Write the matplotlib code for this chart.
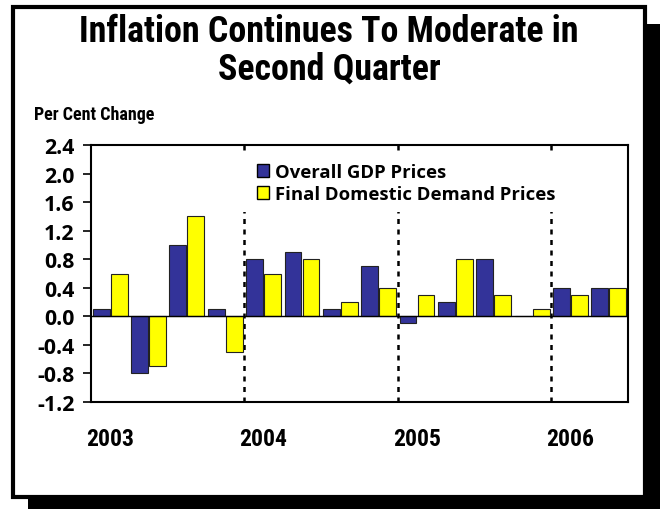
import matplotlib
matplotlib.use("Agg")
import matplotlib.pyplot as plt
from matplotlib.patches import Rectangle, Patch
import numpy as np

quarters = ["2003Q1","2003Q2","2003Q3","2003Q4","2004Q1","2004Q2","2004Q3","2004Q4",
            "2005Q1","2005Q2","2005Q3","2005Q4","2006Q1","2006Q2"]
gdp_prices = [0.1, -0.8, 1.0, 0.1, 0.8, 0.9, 0.1, 0.7, -0.1, 0.2, 0.8, 0.0, 0.4, 0.4]
fdd_prices = [0.6, -0.7, 1.4, -0.5, 0.6, 0.8, 0.2, 0.4, 0.3, 0.8, 0.3, 0.1, 0.3, 0.4]
years = ["2003", "2004", "2005", "2006"]
yticks = [-1.2, -0.8, -0.4, 0.0, 0.4, 0.8, 1.2, 1.6, 2.0, 2.4]

COND = ["Roboto Condensed", "Liberation Sans Narrow", "DejaVu Sans Condensed", "DejaVu Sans"]
MAIN = ["Open Sans", "DejaVu Sans"]

W, H = 660, 510
fig = plt.figure(figsize=(W/100, H/100), dpi=100)

def px(x0, y0, x1, y1):
    return (x0/W, 1-y1/H, (x1-x0)/W, (y1-y0)/H)

# shadow and frame
l, b, w, h = px(28, 25, 662, 512)
fig.patches.append(Rectangle((l, b), w, h, transform=fig.transFigure, facecolor="black", edgecolor="none", zorder=0))
l, b, w, h = px(13, 8, 645, 498)
fig.patches.append(Rectangle((l, b), w, h, transform=fig.transFigure, facecolor="white", edgecolor="black", linewidth=3.0, zorder=1))

fig.text(329/W, 1-32/H, "Inflation Continues To Moderate in", ha="center", va="center",
         fontsize=25.8, fontweight="bold", family=COND)
fig.text(329/W, 1-70/H, "Second Quarter", ha="center", va="center",
         fontsize=25.8, fontweight="bold", family=COND)
fig.text(34/W, 1-115/H, "Per Cent Change", ha="left", va="center",
         fontsize=13, fontweight="bold", family=COND)

ax = fig.add_axes(px(91, 146, 628, 403))
ax.set_zorder(2)
ax.patch.set_alpha(0)
x = np.arange(len(quarters))
bw = 0.44
ax.bar(x - 0.235, gdp_prices, bw, color="#333399", edgecolor="#222222", linewidth=0.8, zorder=3, label="Overall GDP Prices")
ax.bar(x + 0.235, fdd_prices, bw, color="#FFFF00", edgecolor="#222222", linewidth=0.8, zorder=3, label="Final Domestic Demand Prices")
ax.axhline(0, color="black", linewidth=1.0, zorder=4)

for i in range(1, len(years)):
    ax.axvline(4*i - 0.5, color="black", linestyle=(0, (2, 2.2)), linewidth=1.8, zorder=1)

ax.add_patch(Rectangle((0.278, 0.74), 0.59, 0.235, transform=ax.transAxes, facecolor="white", edgecolor="none", zorder=2))

ax.set_xlim(-0.5, len(quarters) - 0.5)
ax.set_ylim(-1.2, 2.4)
ax.set_yticks(yticks)
ax.set_yticklabels([f"{v:.1f}" for v in yticks], fontsize=15.3, fontweight="bold", family=MAIN)
ax.set_xticks([4*i for i in range(len(years))])
ax.set_xticklabels(years, fontsize=17, fontweight="bold", family=COND)
ax.tick_params(axis="x", length=0, pad=18)
ax.tick_params(axis="y", length=5.8, width=1.2, pad=6, direction="out")
for s in ax.spines.values():
    s.set_linewidth(1.5)

handles = [Patch(facecolor="#333399", edgecolor="black", linewidth=1.0),
           Patch(facecolor="#FFFF00", edgecolor="black", linewidth=1.0)]
leg = ax.legend(handles, ["Overall GDP Prices", "Final Domestic Demand Prices"],
                loc="upper left", bbox_to_anchor=((257-91)/537, (403-164)/257),
                frameon=False, prop={"family": MAIN, "weight": "bold", "size": 13.3},
                handlelength=0.65, handleheight=0.65, handletextpad=0.35, labelspacing=0.22,
                borderaxespad=0, borderpad=0)
leg.set_zorder(5)

fig.savefig("out.png", dpi=100)
